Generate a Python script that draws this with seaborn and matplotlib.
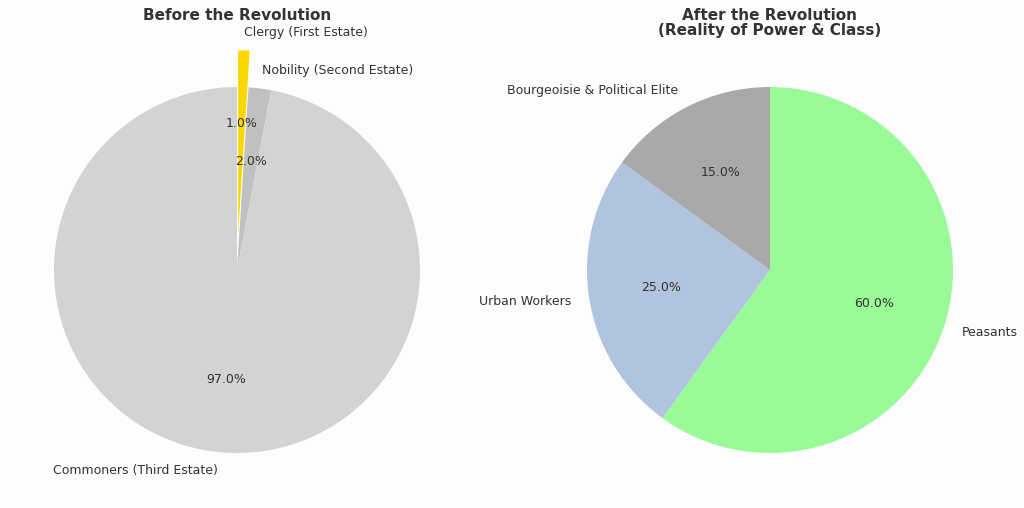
import matplotlib
matplotlib.use("Agg")
import matplotlib.pyplot as plt
import seaborn as sns

sns.set_theme(style="white")
plt.rcParams["text.color"] = "#333333"

before_labels = ["Clergy (First Estate)", "Nobility (Second Estate)", "Commoners (Third Estate)"]
before_values = [1, 2, 97]
before_colors = ["gold", "silver", "lightgray"]
before_explode = [0.2, 0, 0]

after_labels = ["Peasants", "Urban Workers", "Bourgeoisie & Political Elite"]
after_values = [60, 25, 15]
after_colors = ["palegreen", "lightsteelblue", "darkgray"]

W, H = 1024, 508
fig = plt.figure(figsize=(10.24, 5.08), dpi=100, facecolor="#fdfdfd")
R = 183
half = 1.3 * R

def make_ax(cx, cy_top):
    cy = H - cy_top
    ax = fig.add_axes([(cx - half) / W, (cy - half) / H, 2 * half / W, 2 * half / H])
    ax.set_xlim(-1.3, 1.3)
    ax.set_ylim(-1.3, 1.3)
    ax.axis("off")
    return ax

ax1 = make_ax(237, 270)
ax2 = make_ax(770, 270)
tp = {"fontsize": 9, "color": "#333333", "clip_on": False}
w1, _, _ = ax1.pie(before_values, labels=before_labels, colors=before_colors, explode=before_explode,
                   autopct="%1.1f%%", startangle=90, counterclock=False,
                   wedgeprops={"linewidth": 0}, textprops=tp, frame=True)
w2, _, _ = ax2.pie(after_values, labels=after_labels, colors=after_colors,
                   autopct="%1.1f%%", startangle=90, counterclock=False,
                   wedgeprops={"linewidth": 0}, textprops=tp, frame=True)
for ax in (ax1, ax2):
    ax.set_xlim(-1.3, 1.3)
    ax.set_ylim(-1.3, 1.3)
    ax.axis("off")
    for w in ax.patches:
        w.set_clip_on(False)

fig.text(237 / W, 1 - 8 / H, "Before the Revolution", ha="center", va="top",
         fontsize=11, fontweight="bold", color="#333333")
fig.text(770 / W, 1 - 8 / H, "After the Revolution\n(Reality of Power & Class)", ha="center", va="top",
         fontsize=11, fontweight="bold", color="#333333", linespacing=1.0)
fig.savefig("out.png", dpi=100, facecolor=fig.get_facecolor())
